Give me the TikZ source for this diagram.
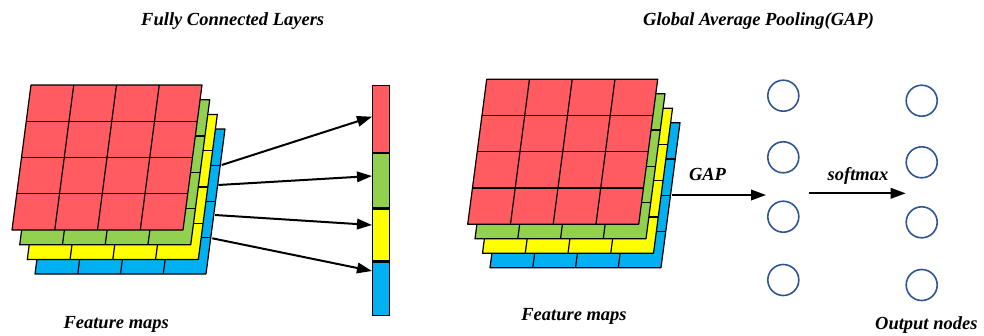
\documentclass[tikz,border=0pt]{standalone}
\usepackage{fontspec}
\setmainfont{Liberation Serif}
\usetikzlibrary{arrows.meta}

\definecolor{mapred}{HTML}{FF5B61}
\definecolor{mapgreen}{HTML}{92D050}
\definecolor{mapyellow}{HTML}{FFFF00}
\definecolor{mapblue}{HTML}{00B0F0}
\definecolor{nodeblue}{HTML}{2F5597}

\tikzset{
  gridline/.style={black, line width=1.2pt, line join=round},
  label/.style={font=\fontsize{18.5}{21}\selectfont\bfseries\itshape, inner sep=0pt, anchor=base},
  flow/.style={line width=2pt, -{Triangle[length=15pt,width=10.5pt]}},
  cell/.style={draw=black, line width=1.2pt, minimum width=17pt, inner sep=0pt},
  unit/.style={circle, draw=nodeblue, line width=1.6pt, minimum size=31pt, inner sep=0pt},
}

% one feature map: top-left corner (#1,#2), fill colour #3, 4x4 slanted cells
\newcommand\featuremap[3]{%
  \fill[#3] (#1,#2) -- ++(171,0) -- ++(-19,145) -- ++(-171,0) -- cycle;
  \foreach \i in {1,2,3} {\draw[gridline] ({#1+\i*42.75},#2) -- ++(-19,145);}
  \foreach \j in {1,2,3} {\draw[gridline] ({#1-\j*4.75},{#2+\j*36.25}) -- ++(171,0);}
  \draw[gridline] (#1,#2) -- ++(171,0) -- ++(-19,145) -- ++(-171,0) -- cycle;
}

\begin{document}
\begin{tikzpicture}[x=1pt, y=-1pt]
\useasboundingbox (0,0) rectangle (984,335);

% ---- fully connected side ----
\node[label] (titleFC) at (232.7,25) {Fully Connected Layers};
\featuremap{54}{129}{mapblue}
\featuremap{46.3}{114.5}{mapyellow}
\featuremap{38.7}{99.8}{mapgreen}
\featuremap{31}{85}{mapred}
\node[label] (fmA) at (116.2,328) {Feature maps};

\node[cell, fill=mapred,    minimum height=67pt, anchor=north west] (barR) at (372,85) {};
\node[cell, fill=mapgreen,  minimum height=54pt, anchor=north west] (barG) at (barR.south west) {};
\node[cell, fill=mapyellow, minimum height=52pt, anchor=north west] (barY) at (barG.south west) {};
\node[cell, fill=mapblue,   minimum height=53pt, anchor=north west] (barB) at (barY.south west) {};

\coordinate (s1) at (221.7,165);
\coordinate (s2) at (218.3,185);
\coordinate (s3) at (215,215);
\coordinate (s4) at (212.3,238.3);
\coordinate (e1) at (372,116.7);
\coordinate (e2) at (372,176);
\coordinate (e3) at (372,225);
\coordinate (e4) at (372,271);
\draw[flow] (s1) -- (e1);
\draw[flow] (s2) -- (e2);
\draw[flow] (s3) -- (e3);
\draw[flow] (s4) -- (e4);

% ---- global average pooling side ----
\node[label] (titleGAP) at (758.6,25.7) {Global Average Pooling(GAP)};
\featuremap{509}{122.7}{mapblue}
\featuremap{501.5}{108.2}{mapyellow}
\featuremap{494}{93.8}{mapgreen}
\featuremap{486.7}{79.3}{mapred}
\node[label] (fmB) at (574,320) {Feature maps};

\node[unit] (p1) at (783.3,95.7) {};
\node[unit] (p2) at (783.3,157.3) {};
\node[unit] (p3) at (783.3,216.7) {};
\node[unit] (p4) at (783.3,280) {};
\node[unit] (o1) at (921.7,100.7) {};
\node[unit] (o2) at (921.7,162.3) {};
\node[unit] (o3) at (921.7,222.3) {};
\node[unit] (o4) at (921.7,285) {};

\coordinate (gapS) at (671.7,195);
\coordinate (gapE) at (766,195);
\draw[flow] (gapS) -- (gapE);
\node[label] (gapL) at (707.5,180) {GAP};

\coordinate (smS) at (809,193.3);
\coordinate (smE) at (905.7,193.3);
\draw[flow] (smS) -- (smE);
\node[label] (smL) at (858,180) {softmax};

\node[label] (outL) at (926.3,329) {Output nodes};
\end{tikzpicture}
\end{document}
